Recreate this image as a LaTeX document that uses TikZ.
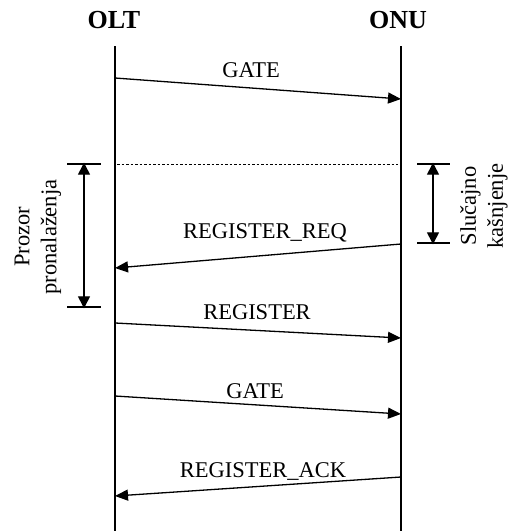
\documentclass[tikz,border=0pt]{standalone}
\usepackage{fontspec}
\setmainfont{Liberation Serif}
\usetikzlibrary{arrows.meta}
\begin{document}
\begin{tikzpicture}[x=1pt,y=-1pt,
  lifeline/.style={line width=2.7pt},
  msg/.style={line width=1.3pt,-{Triangle[length=13pt,width=11pt]}},
  lbl/.style={anchor=base,inner sep=0pt,font=\fontsize{22.5}{26}\selectfont},
  title/.style={anchor=base,inner sep=0pt,font=\bfseries\fontsize{26}{28}\selectfont},
  bar/.style={line width=2.7pt},
  span/.style={line width=1.3pt,{Triangle[length=12pt,width=12pt]}-{Triangle[length=12pt,width=12pt]}},
  side/.style={rotate=90,align=center,inner sep=0pt,font=\fontsize{22.5}{27}\selectfont}]
\useasboundingbox (0,0) rectangle (514,531);
% titles
\node[title] (olt) at (114,28) {OLT};
\node[title] (onu) at (398,28) {ONU};
% lifelines
\coordinate (oltT) at (115,46);
\coordinate (oltB) at (115,531);
\coordinate (onuT) at (401,46);
\coordinate (onuB) at (401,531);
\draw[lifeline] (oltT) -- (oltB);
\draw[lifeline] (onuT) -- (onuB);
% message endpoints
\coordinate (g1a) at (115,78);  \coordinate (g1b) at (401,99);
\coordinate (rqa) at (401,244); \coordinate (rqb) at (115,268);
\coordinate (rga) at (115,323); \coordinate (rgb) at (401,338);
\coordinate (g2a) at (115,396); \coordinate (g2b) at (401,414);
\coordinate (aka) at (401,477); \coordinate (akb) at (115,496);
\draw[msg] (g1a) -- (g1b);
\draw[msg] (rqa) -- (rqb);
\draw[msg] (rga) -- (rgb);
\draw[msg] (g2a) -- (g2b);
\draw[msg] (aka) -- (akb);
\node[lbl] (lg1) at (251,77) {GATE};
\node[lbl] (lrq) at (265,238) {REGISTER\_REQ};
\node[lbl] (lrg) at (257,319) {REGISTER};
\node[lbl] (lg2) at (255,398) {GATE};
\node[lbl] (lak) at (263,477) {REGISTER\_ACK};
% dotted reference line
\coordinate (dA) at (117,164);
\coordinate (dB) at (398,164);
\draw[line width=1pt,dash pattern=on 2.5pt off 2pt] (dA) -- (dB);
% left bracket
\coordinate (lt1) at (67,164); \coordinate (lt2) at (101,164);
\coordinate (lb1) at (67,307); \coordinate (lb2) at (101,307);
\coordinate (la) at (84,164); \coordinate (lb) at (84,307);
\draw[bar] (lt1) -- (lt2);
\draw[bar] (lb1) -- (lb2);
\draw[span] ([yshift=1.3pt]la) -- ([yshift=-1.3pt]lb);
\node[side] (prozor) at (38,237) {Prozor\\pronalaženja};
% right bracket
\coordinate (rt1) at (417,164); \coordinate (rt2) at (450,164);
\coordinate (rb1) at (417,243); \coordinate (rb2) at (450,243);
\coordinate (ra) at (433,164); \coordinate (rb) at (433,243);
\draw[bar] (rt1) -- (rt2);
\draw[bar] (rb1) -- (rb2);
\draw[span] ([yshift=1.3pt]ra) -- ([yshift=-1.3pt]rb);
\node[side] (slucajno) at (484,206) {Slučajno\\kašnjenje};
\end{tikzpicture}
\end{document}
